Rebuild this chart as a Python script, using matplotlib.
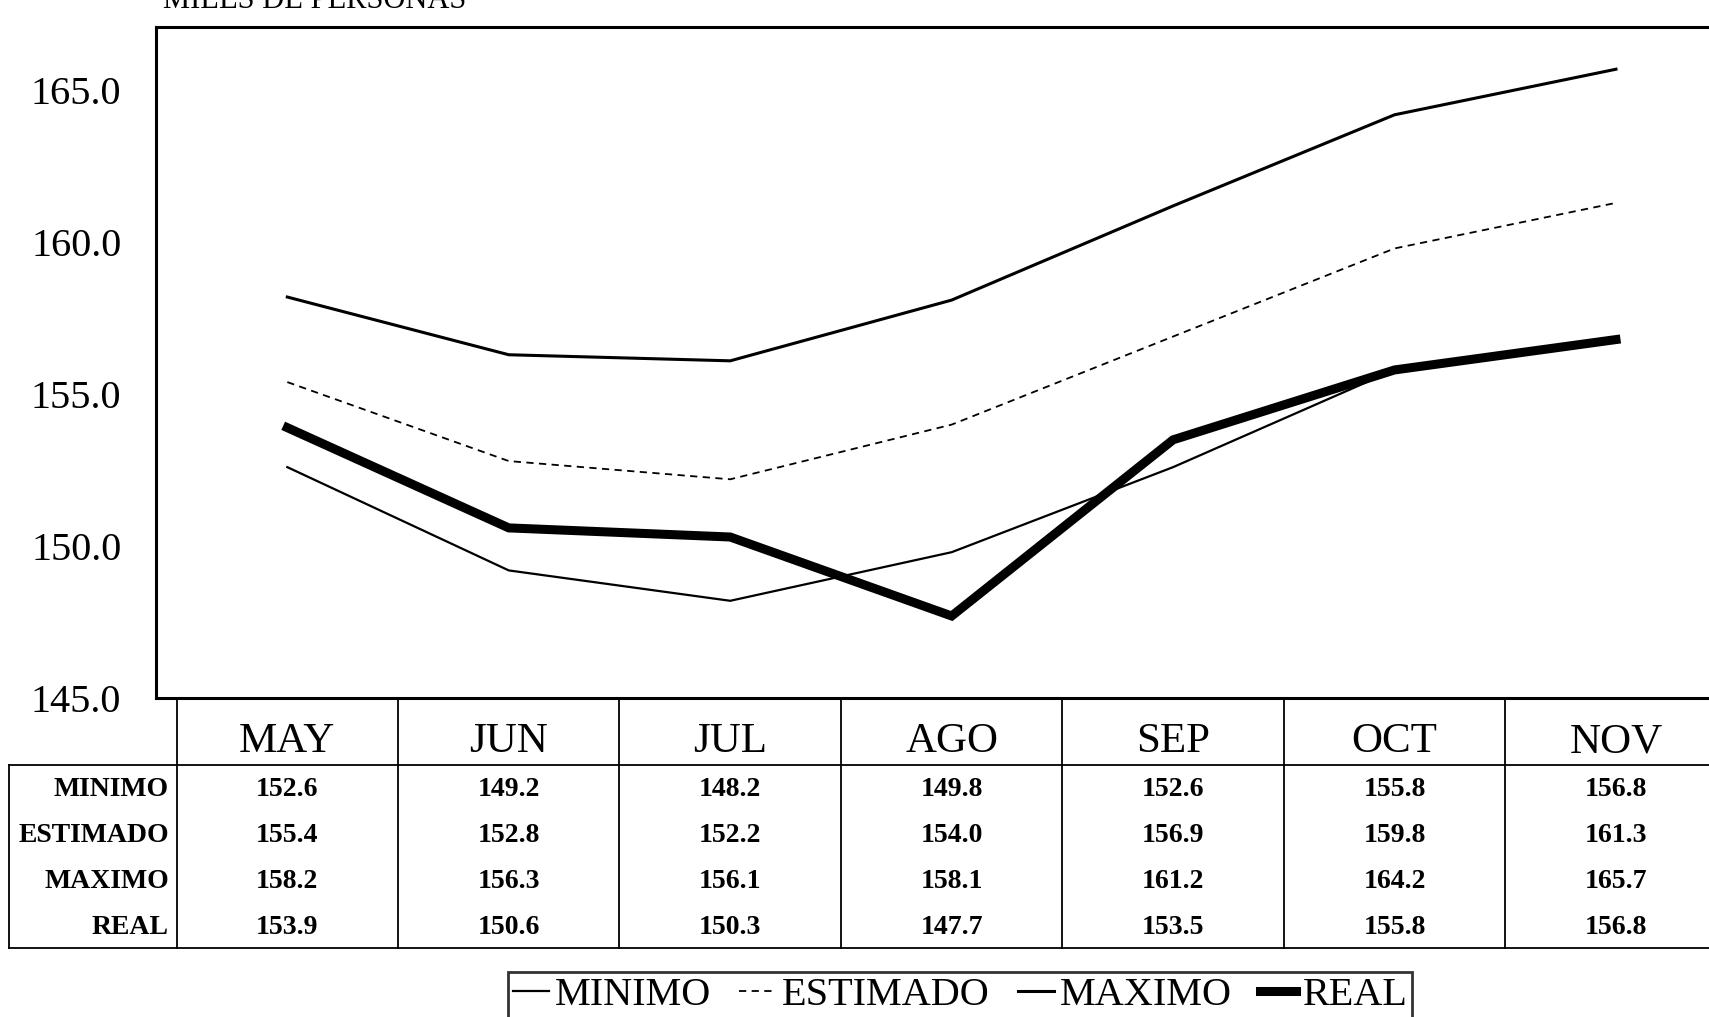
import matplotlib.pyplot as plt
import numpy as np

months = ['MAY', 'JUN', 'JUL', 'AGO', 'SEP', 'OCT', 'NOV']
minimo = [152.6, 149.2, 148.2, 149.8, 152.6, 155.8, 156.8]
estimado = [155.4, 152.8, 152.2, 154.0, 156.9, 159.8, 161.3]
maximo = [158.2, 156.3, 156.1, 158.1, 161.2, 164.2, 165.7]
real = [153.9, 150.6, 150.3, 147.7, 153.5, 155.8, 156.8]
yticks = [145.0, 150.0, 155.0, 160.0, 165.0]

series = [('MINIMO', minimo), ('ESTIMADO', estimado), ('MAXIMO', maximo), ('REAL', real)]
styles = {'MINIMO': dict(lw=1.6, ls='-'),
          'ESTIMADO': dict(lw=1.3, ls=(0, (4, 3))),
          'MAXIMO': dict(lw=2.2, ls='-'),
          'REAL': dict(lw=6.5, ls='-')}

plt.rcParams['font.family'] = ['Liberation Serif', 'DejaVu Serif']

W, H = 1709, 1017
fig = plt.figure(figsize=(W / 100, H / 100), dpi=100)

def px_axes(l, t, r, b):
    return fig.add_axes([l / W, 1 - b / H, (r - l) / W, (b - t) / H])

ax = px_axes(156, 27, 1709, 698)
x = np.arange(len(months))
for name, vals in series:
    ax.plot(x, vals, color='black', solid_joinstyle='miter', label=name, **styles[name])

xmin, xmax = -0.593, 6.42
ax.set_xlim(xmin, xmax)
ax.set_ylim(145, 167.09)
ax.set_xticks([])
ax.set_yticks(yticks)
ax.set_yticklabels([f'{v:.1f}' for v in yticks], fontsize=29)
ax.tick_params(axis='y', length=0, pad=25)
for s in ['left', 'top', 'bottom']:
    ax.spines[s].set_linewidth(2.2)
ax.spines['right'].set_visible(False)

# data table under the plot
tax = px_axes(156, 698, 1709, 952)
tax.set_xlim(xmin, xmax)
tax.set_ylim(254, 0)
tax.axis('off')
kw = dict(color='black', lw=1.3, clip_on=False)
for b in np.arange(-0.5, 7, 1.0):
    tax.plot([b, b], [0, 250], **kw)
lab_left = -1.255
tax.plot([lab_left, xmax], [67, 67], **kw)
tax.plot([lab_left, xmax], [250, 250], **kw)
tax.plot([lab_left, lab_left], [67, 250], **kw)

for i, m in enumerate(months):
    tax.text(i, 44, m, ha='center', va='center', fontsize=31)

row_y = [92, 138, 183, 229]
for (name, vals), ry in zip(series, row_y):
    tax.text(-0.535, ry, name, ha='right', va='center', fontsize=20, fontweight='bold')
    for i, v in enumerate(vals):
        tax.text(i, ry, f'{v:.1f}', ha='center', va='center', fontsize=20, fontweight='bold')

# title, cut off at the top edge as in the scan
fig.text(163 / W, 1 - 8 / H, 'MILES DE PERSONAS', fontsize=22, va='baseline')

leg = fig.legend(loc='upper center', bbox_to_anchor=(960 / W, 1 - 952 / H),
                 ncol=4, fontsize=29, frameon=True, fancybox=False,
                 edgecolor='black', handlelength=0.9, handletextpad=0.15,
                 columnspacing=0.7, borderpad=0.12)
leg.get_frame().set_linewidth(2)

fig.savefig('out.png', dpi=100)
